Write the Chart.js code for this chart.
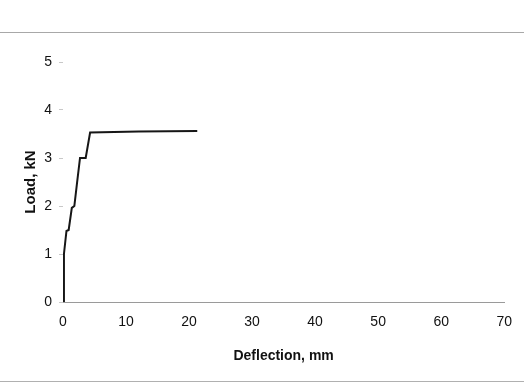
<!DOCTYPE html>
<html>
<head>
<meta charset="utf-8">
<script src="https://cdn.jsdelivr.net/npm/chart.js@4/dist/chart.umd.min.js"></script>
<style>
  body { margin: 0; background: #fff; }
  #caja { position: relative; width: 524px; height: 385px; }
  #marco { position: absolute; left: 0; top: 32px; width: 524px; height: 348px;
           border-top: 1px solid #a8a8a8; border-bottom: 1px solid #b0b0b0; pointer-events: none; }
</style>
</head>
<body>
<div id="caja">
  <canvas id="myChart" width="524" height="385"></canvas>
  <div id="marco"></div>
</div>
<script>
// deflexion (mm) y carga (kN)
const deflexion = [0, 0.15, 0.55, 0.9, 1.4, 1.8, 2.2, 2.7, 3.6, 4.3, 12, 21.3];
const carga     = [0, 1.0, 1.48, 1.5, 1.96, 2.0, 2.45, 3.0, 3.0, 3.53, 3.55, 3.56];

const ticksX = [0, 10, 20, 30, 40, 50, 60, 70];
const ticksY = [0, 1, 2, 3, 4, 5];

const puntos = deflexion.map((d, i) => ({ x: d, y: carga[i] }));

const fuente = "'Liberation Sans', Arial, sans-serif";

const ctx = document.querySelector("#myChart").getContext("2d");
const myChart = new Chart(ctx, {
  type: "scatter",
  data: {
    datasets: [
      {
        label: "Load",
        data: puntos,
        showLine: true,
        borderColor: "#161616",
        borderWidth: 2,
        pointRadius: 0,
        tension: 0,
      },
    ],
  },
  options: {
    responsive: false,
    animation: false,
    layout: { padding: { left: 16, top: 62, right: 17, bottom: 20 } },
    plugins: { legend: { display: false }, tooltip: { enabled: false } },
    scales: {
      x: {
        type: "linear",
        min: ticksX[0],
        max: ticksX[ticksX.length - 1],
        afterBuildTicks: (s) => { s.ticks = ticksX.map((v) => ({ value: v })); },
        afterFit: (s) => { s.height = 63; },
        grid: { display: false, drawTicks: false },
        border: { display: true, color: "#9a9a9a", width: 1 },
        ticks: { padding: 12, color: "#111", font: { family: fuente, size: 14 }, maxRotation: 0 },
        title: {
          display: true,
          text: "Deflection, mm",
          color: "#111",
          font: { family: fuente, size: 14, weight: "bold" },
          padding: { top: 0, bottom: 0 },
        },
      },
      y: {
        type: "linear",
        min: ticksY[0],
        max: ticksY[ticksY.length - 1],
        afterBuildTicks: (s) => { s.ticks = ticksY.map((v) => ({ value: v })); },
        afterFit: (s) => { s.width = 47; },
        grid: { drawOnChartArea: false, drawTicks: true, tickLength: 4, color: "#c8c8c8" },
        border: { display: false },
        ticks: { padding: 7, color: "#111", font: { family: fuente, size: 14 } },
        title: {
          display: true,
          text: "Load, kN",
          color: "#111",
          font: { family: fuente, size: 15, weight: "bold" },
          padding: { top: 6, bottom: 0 },
        },
      },
    },
  },
});
</script>
</body>
</html>
